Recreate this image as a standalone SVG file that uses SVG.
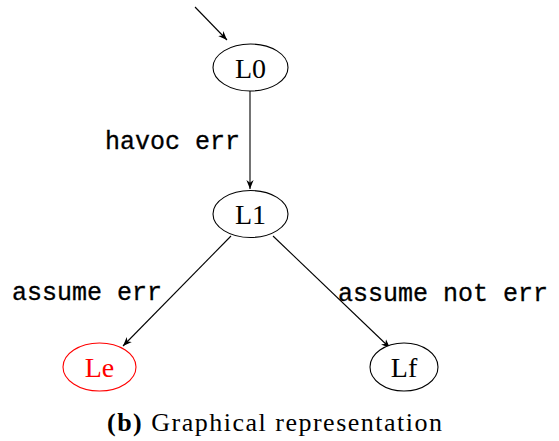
<svg xmlns="http://www.w3.org/2000/svg" width="559" height="441" viewBox="0 0 559 441">
<defs>
<marker id="ah" viewBox="0 0 10 10" refX="10" refY="5" markerWidth="9" markerHeight="9" markerUnits="userSpaceOnUse" orient="auto">
<path d="M0,1 L10,5 L0,9 L3,5 Z" fill="#000"/>
</marker>
<style>
.node ellipse{fill:#fff;stroke:#000;stroke-width:1.1}
.node text{font-family:"Liberation Serif","DejaVu Serif",serif;font-size:28px;text-anchor:middle;fill:#000}
.err ellipse{stroke:#ff0000}
.err text{fill:#ff0000}
.edge{stroke:#000;stroke-width:1.1;fill:none;marker-end:url(#ah)}
.lbl{font-family:"Liberation Mono","DejaVu Sans Mono",monospace;font-size:25px;fill:#000;stroke:#000;stroke-width:0.3}
.cap{font-family:"Liberation Serif","DejaVu Serif",serif;font-size:26px;fill:#000}
</style>
</defs>
<g id="edges">
<line class="edge" x1="195" y1="7" x2="227" y2="40"/>
<line class="edge" x1="250" y1="91" x2="250" y2="189"/>
<line class="edge" x1="231" y1="236" x2="123" y2="346"/>
<line class="edge" x1="273" y1="236" x2="390" y2="348"/>
<text class="lbl" x="240" y="149" text-anchor="end">havoc err</text>
<text class="lbl" x="12" y="300">assume err</text>
<text class="lbl" x="338" y="301">assume not err</text>
</g>
<g id="L0" class="node"><ellipse cx="250.5" cy="67.5" rx="37.5" ry="23.5"/><text x="250.5" y="77.5">L0</text></g>
<g id="L1" class="node"><ellipse cx="250.5" cy="214" rx="37.5" ry="23.5"/><text x="250.5" y="224">L1</text></g>
<g id="Le" class="node err"><ellipse cx="99.5" cy="367" rx="36.5" ry="24"/><text x="99.5" y="377">Le</text></g>
<g id="Lf" class="node"><ellipse cx="404" cy="367" rx="34" ry="24"/><text x="404" y="377">Lf</text></g>
<text class="cap" x="107" y="431" textLength="335" lengthAdjust="spacing"><tspan font-weight="bold">(b)</tspan> Graphical representation</text>
</svg>
